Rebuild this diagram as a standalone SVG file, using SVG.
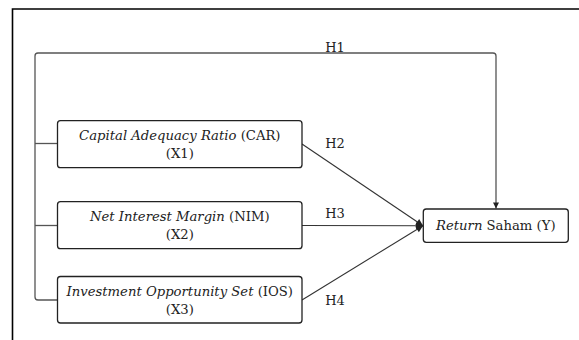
<svg xmlns="http://www.w3.org/2000/svg" width="579" height="340" viewBox="0 0 579 340">
<style>
  .box { fill: #fff; stroke: #222; stroke-width: 1.3; }
  .t { font-family: "DejaVu Serif", "Liberation Serif", serif; font-size: 13.2px; fill: #222; text-anchor: middle; }
  .lbl { font-family: "DejaVu Serif", "Liberation Serif", serif; font-size: 13px; fill: #222; text-anchor: middle; }
  .i { font-style: italic; }
  .conn { fill: none; stroke: #333; stroke-width: 1.1; }
  .trunk { fill: none; stroke: #555; stroke-width: 1.3; }
</style>
<defs>
  <marker id="ah" viewBox="0 0 10 10" refX="10" refY="5" markerWidth="9" markerHeight="7" markerUnits="userSpaceOnUse" orient="auto">
    <path d="M0,0 L10,5 L0,10 Z" fill="#222"/>
  </marker>
  <marker id="ah1" viewBox="0 0 10 10" refX="10" refY="5" markerWidth="9" markerHeight="6" markerUnits="userSpaceOnUse" orient="auto">
    <path d="M0,0 L10,5 L0,10 Z" fill="#222"/>
  </marker>
</defs>
<rect x="0" y="0" width="579" height="340" fill="#fff"/>
<path d="M12.5 340 V9 H579" fill="none" stroke="#000" stroke-width="1.6"/>
<g id="connectors">
  <path class="trunk" d="M57.5 300 H38 Q35 300 35 297 V56 Q35 53 38 53 H493 Q496 53 496 56 V208.5" marker-end="url(#ah1)"/>
  <path class="trunk" d="M35 143.5 H57.5"/>
  <path class="trunk" d="M35 225.5 H57.5"/>
  <line class="conn" x1="302" y1="144" x2="423" y2="225.7" marker-end="url(#ah)"/>
  <line class="conn" x1="302" y1="225.5" x2="423" y2="225.7" marker-end="url(#ah)"/>
  <line class="conn" x1="302" y1="300" x2="423" y2="225.7" marker-end="url(#ah)"/>
  <text class="lbl" x="335" y="51.5">H1</text>
  <text class="lbl" x="335" y="148">H2</text>
  <text class="lbl" x="335" y="218">H3</text>
  <text class="lbl" x="335" y="304.5">H4</text>
</g>
<g id="x1">
  <rect class="box" x="57.5" y="120.7" width="244.5" height="47" rx="3"/>
  <text class="t" x="179.8" y="139.5"><tspan class="i">Capital Adequacy Ratio</tspan> (CAR)</text>
  <text class="t" x="179.8" y="157.5">(X1)</text>
</g>
<g id="x2">
  <rect class="box" x="57.5" y="201.7" width="244.5" height="47" rx="3"/>
  <text class="t" x="179.8" y="220.5"><tspan class="i">Net Interest Margin</tspan> (NIM)</text>
  <text class="t" x="179.8" y="239">(X2)</text>
</g>
<g id="x3">
  <rect class="box" x="57.5" y="276.5" width="244.5" height="46.5" rx="3"/>
  <text class="t" x="179.8" y="296"><tspan class="i">Investment Opportunity Set</tspan> (IOS)</text>
  <text class="t" x="179.8" y="313.5">(X3)</text>
</g>
<g id="y">
  <rect class="box" x="423.3" y="209" width="145" height="33.3" rx="3"/>
  <text class="t" x="495.8" y="230.3"><tspan class="i">Return</tspan> Saham (Y)</text>
</g>
</svg>
